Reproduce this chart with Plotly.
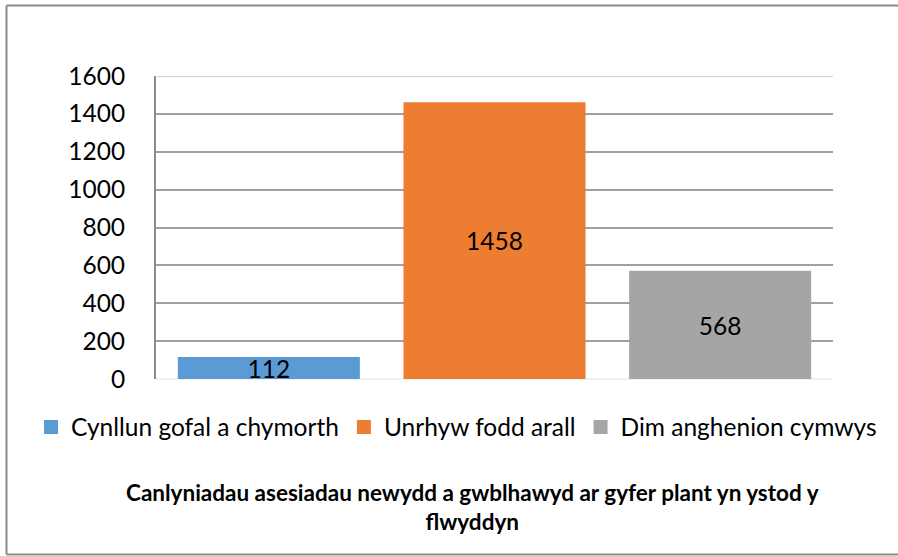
import plotly.graph_objects as go

categories = ["Cynllun gofal a chymorth", "Unrhyw fodd arall", "Dim anghenion cymwys"]
values = [112, 1458, 568]
colors = ["#5B9BD5", "#ED7D31", "#A5A5A5"]
y_ticks = [0, 200, 400, 600, 800, 1000, 1200, 1400, 1600]
title_lines = ["Canlyniadau asesiadau newydd a gwblhawyd ar gyfer plant yn ystod y", "flwyddyn"]

FONT = "Lato"
FS = 24.5
FW, FH = 898, 556

fig = go.Figure()
for cat, val, col in zip(categories, values, colors):
    fig.add_trace(go.Bar(
        x=[cat], y=[val], name=cat,
        marker=dict(color=col, line=dict(width=1.5, color=col)),
        text=[str(val)], textposition="inside", insidetextanchor="middle",
        constraintext="none",
        textfont=dict(family=FONT, size=FS, color="#000000"),
        hoverinfo="skip",
    ))

# plot-area edges in pixels
PL, PR, PT, PB = 156, 833, 76, 379

def fx(xp):
    return xp / FW

def fy(yp):
    return 1 - yp / FH

border = dict(color="#8C8C8C", width=2)

fig.update_layout(
    width=FW, height=FH,
    margin=dict(l=0, r=0, t=0, b=0, pad=0, autoexpand=False),
    paper_bgcolor="white", plot_bgcolor="white",
    barmode="relative", bargap=0.2,
    font=dict(family=FONT, size=FS, color="#000000"),
    showlegend=True,
    legend=dict(orientation="h", xref="paper", x=fx(31), xanchor="left",
                yref="paper", y=fy(427), yanchor="middle",
                font=dict(family=FONT, size=FS, color="#000000"),
                itemsizing="constant", itemwidth=30, traceorder="normal",
                bgcolor="rgba(0,0,0,0)"),
    xaxis=dict(domain=[fx(PL), fx(PR)], showticklabels=False, showgrid=False,
               showline=False, zeroline=False, ticks="", fixedrange=True),
    yaxis=dict(domain=[fy(PB), fy(PT)], range=[0, 1600], tickvals=y_ticks,
               showgrid=True, gridcolor="#A0A0A0", gridwidth=1.5,
               zeroline=True, zerolinecolor="#F0F0F0", zerolinewidth=1.5,
               showline=True, linecolor="#8C8C8C", linewidth=2,
               ticks="", ticklabelstandoff=24, fixedrange=True,
               tickfont=dict(family=FONT, size=FS, color="#000000")),
    annotations=[
        dict(text="<b>" + title_lines[0] + "<br>" + title_lines[1] + "</b>",
             xref="paper", yref="paper", x=fx(472), y=fy(507),
             xanchor="center", yanchor="middle", showarrow=False, align="center",
             font=dict(family=FONT, size=22.5, color="#000000")),
    ],
    shapes=[
        dict(type="line", xref="paper", yref="y", x0=fx(PL + 1), x1=fx(PR),
             y0=y_ticks[-1], y1=y_ticks[-1],
             line=dict(color="#D9D9D9", width=2.5), layer="above"),
        dict(type="line", xref="paper", yref="paper", x0=fx(6.5), x1=fx(6.5),
             y0=fy(554.5), y1=fy(5.5), line=border, layer="below"),
        dict(type="line", xref="paper", yref="paper", x0=fx(6.5), x1=1,
             y0=fy(5.5), y1=fy(5.5), line=border, layer="below"),
        dict(type="line", xref="paper", yref="paper", x0=fx(6.5), x1=1,
             y0=fy(554.5), y1=fy(554.5), line=border, layer="below"),
    ],
)

fig.write_html("out.html", config={"displayModeBar": False},
               post_script="document.body.style.margin='0';document.body.style.overflow='hidden';")
